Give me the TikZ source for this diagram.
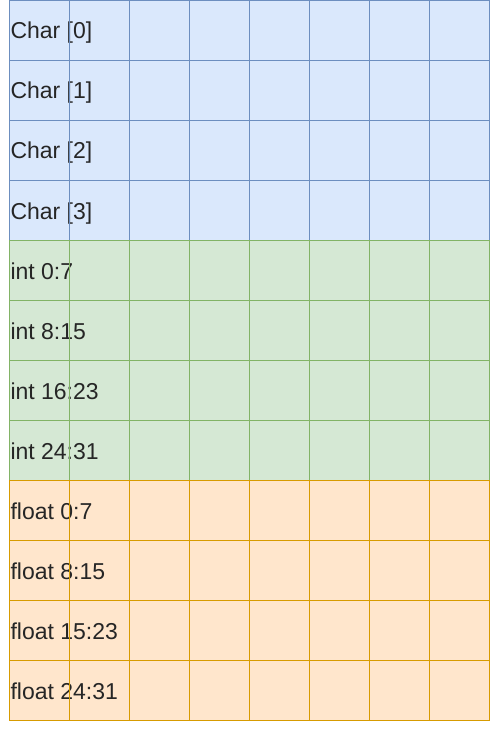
\documentclass[tikz,border=0pt]{standalone}
\usepackage{fontspec}
\setmainfont{Liberation Sans}
\definecolor{bfill}{HTML}{DAE8FC}
\definecolor{bline}{HTML}{6C8EBF}
\definecolor{gfill}{HTML}{D5E8D4}
\definecolor{gline}{HTML}{82B366}
\definecolor{ofill}{HTML}{FFE6CC}
\definecolor{oline}{HTML}{D79B00}
\begin{document}
\begin{tikzpicture}[x=1pt,y=-1pt,
  gridline/.style={line width=1pt},
  lbl/.style={anchor=base west, inner sep=0pt, text=black!85, font=\fontsize{23}{27}\selectfont}]
\useasboundingbox (0,0) rectangle (499,730);
\fill[white] (0,0) rectangle (499,730);
\foreach \s/\fc/\lc in {0/bfill/bline,1/gfill/gline,2/ofill/oline}{
  \pgfmathsetmacro{\top}{0.5+240*\s}
  \fill[\fc] (9.5,\top) rectangle (489.5,\top+240);
  \ifnum\s=0
    \node[lbl] (r0) at (10.3,\top+38.5) {Char [0]};
    \node[lbl] (r1) at (10.3,\top+98.5) {Char [1]};
    \node[lbl] (r2) at (10.3,\top+158.5) {Char [2]};
    \node[lbl] (r3) at (10.3,\top+218.5) {Char [3]};
  \fi
  \ifnum\s=1
    \node[lbl] (r4) at (10.3,\top+38.5) {int 0:7};
    \node[lbl] (r5) at (10.3,\top+98.5) {int 8:15};
    \node[lbl] (r6) at (10.3,\top+158.5) {int 16:23};
    \node[lbl] (r7) at (10.3,\top+218.5) {int 24:31};
  \fi
  \ifnum\s=2
    \node[lbl] (r8) at (10.3,\top+38.5) {float 0:7};
    \node[lbl] (r9) at (10.3,\top+98.5) {float 8:15};
    \node[lbl] (r10) at (10.3,\top+158.5) {float 15:23};
    \node[lbl] (r11) at (10.3,\top+218.5) {float 24:31};
  \fi
  \foreach \c in {1,...,7}{
    \draw[gridline,\lc] (9.5+60*\c,\top) -- (9.5+60*\c,\top+240);
  }
  \foreach \r in {1,2,3}{
    \draw[gridline,\lc] (9.5,\top+60*\r) -- (489.5,\top+60*\r);
  }
  \draw[gridline,\lc] (9.5,\top) rectangle (489.5,\top+240);
}
\end{tikzpicture}
\end{document}
